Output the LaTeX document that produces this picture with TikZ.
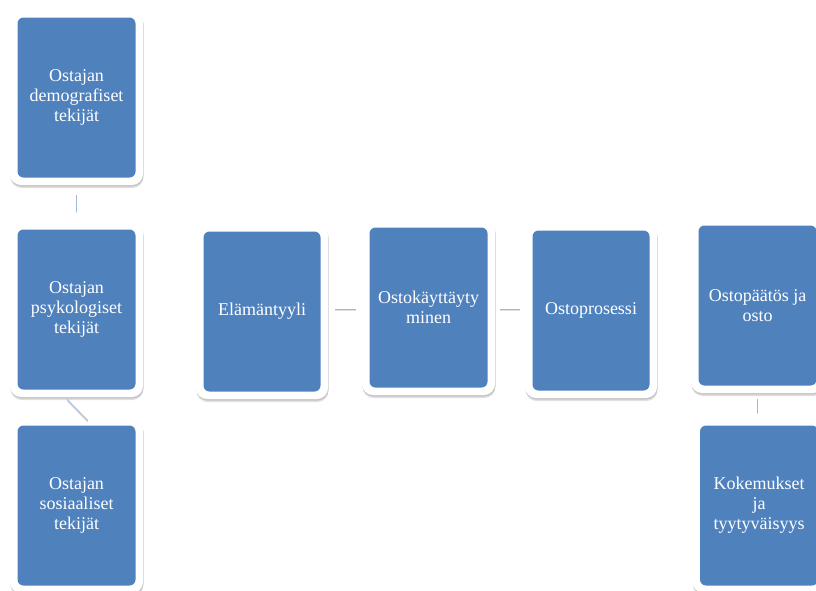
\documentclass[tikz,border=0pt]{standalone}
\usepackage{fontspec}
\setmainfont{Liberation Serif}
\usetikzlibrary{shadows}
\definecolor{boxblue}{RGB}{79,129,189}
\definecolor{connblue}{RGB}{160,183,222}
\begin{document}
\begin{tikzpicture}[x=1pt,y=-1pt,
  frame/.style={rectangle, fill=white, rounded corners=11pt,
    minimum width=133pt, minimum height=175pt, inner sep=0pt,
    text=white, align=center, font=\fontsize{18}{20}\selectfont,
    drop shadow={shadow xshift=0.5pt, shadow yshift=-3pt, fill=black, opacity=0.12},
    drop shadow={shadow xshift=0.5pt, shadow yshift=-1.5pt, fill=black, opacity=0.12},
    path picture={\fill[boxblue, rounded corners=6pt]
      ([xshift=7.5pt,yshift=-7.5pt]path picture bounding box.north west) rectangle
      ([xshift=-7.5pt,yshift=7.5pt]path picture bounding box.south east);}},
  conn/.style={draw=connblue, line width=0.9pt,
    preaction={draw=black!12, line width=1.2pt, transform canvas={yshift=-1.5pt}}}
]
\useasboundingbox (0,0) rectangle (816,590);
\node[frame] (b1) at (76.5,97.5) {Ostajan\\demografiset\\tekijät};
\node[frame] (b2) at (76.5,309.5) {Ostajan\\psykologiset\\tekijät};
\node[frame] (b3) at (76.5,505.5) {Ostajan\\sosiaaliset\\tekijät};
\node[frame, minimum width=132pt] (e) at (262,311.5) {Elämäntyyli};
\node[frame] (k) at (428.5,307.5) {Ostokäyttäyty\\minen};
\node[frame, minimum width=132pt] (p) at (591,310.5) {Ostoprosessi};
\node[frame] (d) at (757.5,305.5) {Ostopäätös ja\\osto};
\node[frame] (kk) at (759,505.5) {Kokemukset\\ja\\tyytyväisyys};
\draw[conn, shorten <=10pt, shorten >=10pt] (b1) -- (b2);
\draw[conn, shorten <=3pt, shorten >=-4pt] ([xshift=-11.5pt]b2.south) -- ([xshift=8.5pt]b3.north);
\draw[conn, shorten <=7pt, shorten >=6pt] ([yshift=2.5pt]e.east) -- ([yshift=-1.5pt]k.west);
\draw[conn, shorten <=5pt, shorten >=5pt] ([yshift=-1.5pt]k.east) -- ([yshift=1.5pt]p.west);
\draw[conn, shorten <=6pt, shorten >=5pt] (d.south) -- (d.south |- kk.north);
\end{tikzpicture}
\end{document}
